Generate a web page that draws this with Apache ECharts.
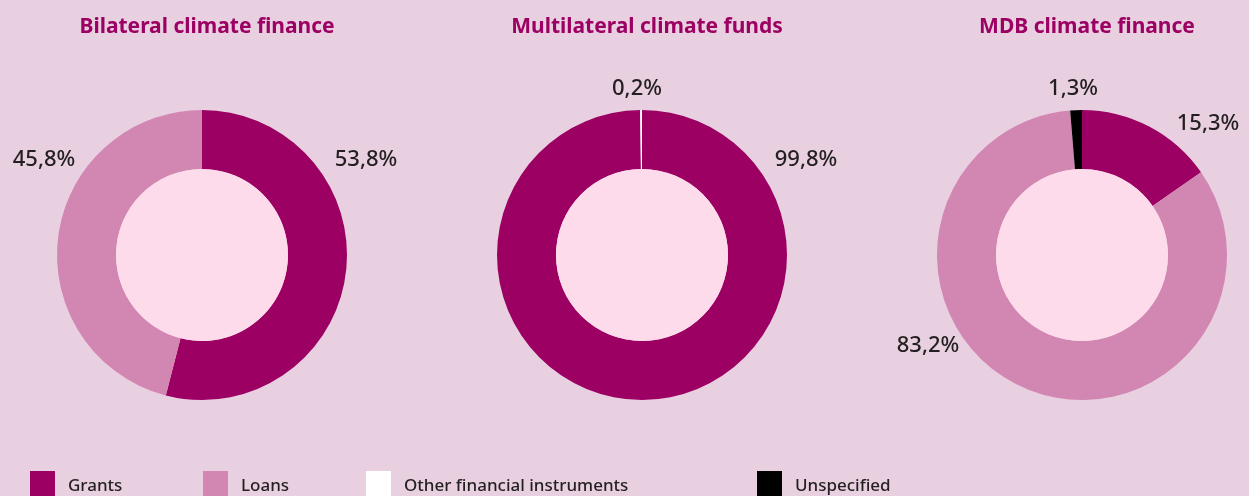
<!DOCTYPE html>
<html>
<head>
<meta charset="utf-8">
<script src="https://cdn.jsdelivr.net/npm/echarts@6/dist/echarts.min.js"></script>
<style>
  html, body { margin: 0; padding: 0; background: #e8d0e1; }
  #chart { width: 1249px; height: 496px; }
</style>
</head>
<body>
<div id="chart"></div>
<script>
// values
const titles = ['Bilateral climate finance', 'Multilateral climate funds', 'MDB climate finance'];
const bilateralNames = ['Grants', 'Loans'];
const bilateralValues = [53.8, 45.8];
const multilateralNames = ['Grants', 'Other financial instruments'];
const multilateralValues = [99.8, 0.2];
const mdbNames = ['Grants', 'Loans', 'Unspecified'];
const mdbValues = [15.3, 83.2, 1.3];
const legendNames = ['Grants', 'Loans', 'Other financial instruments', 'Unspecified'];

const colors = {
  'Grants': '#9b0062',
  'Loans': '#d287b2',
  'Other financial instruments': '#ffffff',
  'Unspecified': '#000000'
};

const centersX = [202, 642, 1082];
const centerY = 255;
// label centres (hand placed, as in the reference)
const labelPos = [
  [[366, 160], [44, 160]],
  [[806, 160], [637, 89]],
  [[1208, 124], [928, 346], [1073, 89]]
];
const legendLeft = [30, 203, 366, 757];

const font = '"Noto Sans", "Open Sans", sans-serif';
const sets = [
  [bilateralNames, bilateralValues],
  [multilateralNames, multilateralValues],
  [mdbNames, mdbValues]
];

let chart = echarts.init(document.getElementById('chart'));

let series = [];
sets.forEach((s, i) => {
  series.push({
    type: 'pie',
    center: [centersX[i], centerY],
    radius: [86, 145],
    startAngle: 90,
    clockwise: true,
    avoidLabelOverlap: false,
    emphasis: { disabled: true },
    label: {
      show: true,
      position: 'outside',
      formatter: p => String(p.value).replace('.', ',') + '%',
      fontFamily: font,
      fontSize: 22,
      fontWeight: 500,
      color: '#231f20'
    },
    labelLine: { show: false },
    labelLayout: p => ({
      x: labelPos[i][p.dataIndex][0],
      y: labelPos[i][p.dataIndex][1],
      align: 'center',
      verticalAlign: 'middle'
    }),
    data: s[0].map((n, k) => ({
      name: n,
      value: s[1][k],
      itemStyle: { color: colors[n] }
    }))
  });
});
// light inner discs
centersX.forEach(cx => {
  series.push({
    type: 'pie',
    center: [cx, centerY],
    radius: [0, 86],
    silent: true,
    label: { show: false },
    labelLine: { show: false },
    itemStyle: { color: '#fedbea' },
    data: [{ value: 1, name: '' }]
  });
});

let option = {
  backgroundColor: '#e8d0e1',
  title: titles.map((t, i) => ({
    text: t,
    left: centersX[i],
    top: 12,
    textAlign: 'center',
    textStyle: {
      fontFamily: font,
      fontSize: 21,
      fontWeight: 'bold',
      color: '#9b0062'
    }
  })),
  legend: legendNames.map((n, i) => ({
    data: [n],
    left: legendLeft[i],
    top: 471,
    padding: 0,
    icon: 'rect',
    itemWidth: 25,
    itemHeight: 30,
    selectedMode: false,
    textStyle: {
      fontFamily: font,
      fontSize: 17,
      fontWeight: 500,
      color: '#231f20',
      padding: [0, 0, 0, 8]
    }
  })),
  series: series
};
chart.setOption(option);
</script>
</body>
</html>
